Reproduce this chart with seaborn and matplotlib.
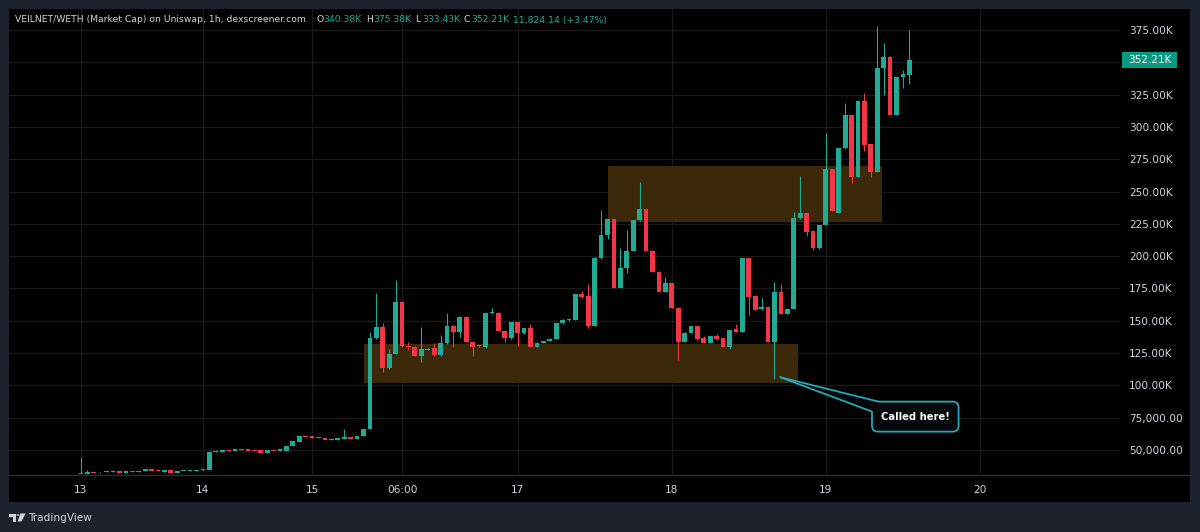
import numpy as np
import pandas as pd
import matplotlib.pyplot as plt
import matplotlib.transforms as mtransforms
from matplotlib.patches import Rectangle, FancyBboxPatch, Polygon, Circle
from matplotlib.lines import Line2D
import seaborn as sns

# ============================================================
# 0. 데이터 (단위: K, 1시간봉)
# ============================================================

opens = [31.6, 31.4, 33.0, 32.6, 32.8, 33.0, 33.5, 32.4, 34.0, 33.2,
         33.5, 35.1, 34.3, 33.0, 34.5, 32.4, 33.5, 33.7, 34.0, 34.3,
         34.5, 48.5, 48.7, 50.0, 49.2, 51.0, 50.5, 50.3, 50.0, 48.0,
         50.0, 49.5, 49.5, 53.1, 56.5, 60.8, 60.8, 59.8, 59.3, 57.7,
         57.7, 58.8, 60.3, 58.5, 60.8, 66.3, 136.5, 145.0, 113.2, 124.3,
         164.8, 130.5, 130.0, 122.8, 127.7, 128.7, 123.5, 132.6, 146.0, 141.6,
         153.2, 133.8, 130.8, 129.5, 155.8, 156.3, 142.4, 136.5, 148.7, 140.3,
         144.2, 130.0, 133.0, 134.4, 136.1, 148.0, 150.6, 150.6, 170.7, 169.2,
         146.2, 198.8, 216.0, 228.8, 175.6, 190.6, 204.3, 228.0, 236.8, 204.3,
         188.0, 172.5, 179.0, 160.1, 133.8, 140.5, 146.0, 136.5, 133.1, 138.2,
         136.5, 130.0, 143.4, 141.6, 198.4, 169.2, 158.9, 160.4, 133.8, 172.5,
         155.3, 159.1, 229.3, 233.2, 219.5, 206.1, 224.1, 267.2, 233.7, 283.5,
         309.3, 261.5, 320.4, 286.8, 265.0, 345.4, 354.4, 309.3, 338.4, 340.38]

highs = [44.8, 34.5, 33.2, 33.0, 33.7, 33.6, 33.6, 34.1, 34.1, 34.1,
         35.2, 35.2, 34.4, 34.6, 34.6, 34.1, 33.9, 34.6, 34.6, 35.4,
         48.6, 49.6, 50.1, 50.1, 51.1, 51.1, 50.6, 50.4, 50.1, 50.1,
         50.1, 50.6, 53.2, 56.8, 60.9, 60.9, 60.9, 59.9, 59.4, 58.9,
         59.4, 66.0, 60.4, 60.9, 66.4, 141.6, 171.8, 148.0, 128.0, 181.6,
         165.0, 133.8, 130.5, 145.0, 128.8, 132.8, 139.0, 156.3, 146.5, 154.0,
         153.5, 134.0, 131.5, 156.0, 159.7, 156.5, 142.5, 149.0, 149.0, 144.5,
         147.5, 133.3, 134.6, 136.3, 148.3, 151.0, 151.3, 171.0, 173.3, 178.5,
         199.0, 235.8, 229.0, 229.0, 206.1, 220.3, 228.3, 257.7, 237.0, 204.5,
         188.2, 184.1, 179.2, 160.3, 141.0, 146.3, 146.2, 138.5, 138.4, 139.5,
         136.7, 143.0, 147.3, 198.6, 198.6, 169.4, 167.4, 160.6, 180.3, 178.5,
         159.3, 234.0, 262.0, 233.4, 219.7, 224.3, 295.0, 267.4, 283.7, 318.8,
         309.5, 320.6, 326.1, 287.0, 378.2, 364.8, 354.6, 338.6, 344.1, 375.38]

lows = [31.4, 31.4, 32.3, 32.4, 32.6, 32.9, 32.3, 32.3, 33.1, 33.1,
        33.4, 33.4, 33.4, 32.9, 32.3, 32.3, 33.4, 33.6, 33.9, 34.2,
        34.4, 48.4, 48.6, 49.4, 49.1, 49.9, 49.4, 49.4, 47.9, 47.9,
        49.1, 49.4, 49.4, 53.0, 56.4, 59.9, 59.2, 58.9, 57.6, 57.6,
        57.6, 58.7, 58.4, 58.4, 60.7, 66.0, 136.0, 110.6, 113.0, 124.0,
        130.0, 127.4, 122.5, 118.3, 127.0, 123.0, 123.0, 132.0, 130.0, 137.7,
        133.5, 122.8, 129.5, 129.0, 155.5, 142.0, 133.8, 136.0, 130.5, 140.0,
        129.8, 129.8, 132.8, 134.2, 136.0, 147.8, 150.0, 150.4, 167.5, 144.7,
        146.0, 198.0, 213.0, 175.0, 175.0, 186.8, 204.0, 227.5, 204.0, 187.8,
        172.0, 172.0, 160.0, 119.7, 133.5, 140.3, 135.5, 133.0, 133.0, 135.0,
        129.8, 128.0, 141.4, 141.4, 154.5, 158.2, 158.7, 133.5, 105.0, 155.0,
        155.0, 159.0, 229.0, 215.6, 204.8, 205.9, 224.0, 234.8, 233.5, 283.3,
        256.4, 261.3, 281.7, 261.1, 264.8, 324.8, 309.0, 309.0, 330.0, 333.43]

closes = [31.9, 33.0, 32.4, 32.8, 33.5, 33.4, 32.4, 34.0, 33.2, 34.0,
          35.1, 33.5, 33.5, 34.5, 32.4, 34.0, 33.8, 34.5, 34.5, 35.3,
          48.5, 49.5, 50.0, 49.5, 51.0, 50.0, 49.5, 49.5, 48.0, 50.0,
          49.2, 50.5, 53.1, 56.7, 60.8, 60.0, 59.3, 59.0, 57.7, 58.8,
          59.3, 60.3, 58.5, 60.8, 66.3, 136.5, 145.0, 113.2, 124.3, 164.8,
          130.5, 130.0, 122.8, 128.0, 128.3, 123.5, 132.6, 146.0, 141.6, 153.2,
          133.8, 129.5, 130.3, 155.8, 156.4, 142.4, 136.5, 148.7, 140.3, 144.2,
          130.0, 133.0, 134.4, 136.1, 148.0, 150.6, 151.0, 170.7, 168.7, 146.0,
          198.8, 216.4, 228.8, 175.6, 191.1, 204.3, 228.0, 236.8, 204.3, 188.0,
          172.5, 179.0, 160.1, 133.8, 140.8, 146.0, 135.7, 133.1, 138.2, 135.7,
          130.0, 142.9, 141.6, 198.4, 168.7, 158.4, 160.4, 133.8, 172.5, 155.3,
          159.1, 229.3, 233.2, 219.0, 206.1, 224.1, 267.2, 235.0, 283.5, 309.3,
          261.5, 320.4, 286.1, 265.0, 345.4, 354.4, 309.3, 338.4, 340.8, 352.21]

# 날짜 눈금 (봉 번호 기준)
date_ticks = [0, 19, 36, 50, 68, 92, 116, 140]
date_labels = ["13", "14", "15", "06:00", "17", "18", "19", "20"]

# 가격 눈금 (K) - 350K 라벨은 현재가 배지에 가려짐
price_ticks = [50, 75, 100, 125, 150, 175, 200, 225, 250, 275, 300, 325, 350, 375]
hidden_ticks = [350]

# 박스 구간 (봉 번호 시작/끝, 가격 하단/상단)
zone_x0 = [44.1, 82.0]
zone_x1 = [111.7, 124.7]
zone_y0 = [101.9, 226.7]
zone_y1 = [132.0, 269.8]

last_price = "352.21K"
callout_text = "Called here!"
callout_bar = 108

# ============================================================
# 1. 기본 설정
# ============================================================

W, H = 1200, 532
BG = "#1e222d"
GREEN = "#22ab94"
RED = "#f23645"
TXT = "#d1d4dc"
GRID = "#1a1a1a"

sns.set_theme(style="dark", rc={"axes.facecolor": "black", "figure.facecolor": BG})
plt.rcParams["font.family"] = ["DejaVu Sans"]

df = pd.DataFrame({"open": opens, "high": highs, "low": lows, "close": closes})
df["idx"] = np.arange(len(df))
df["up"] = df["close"] >= df["open"]
df["color"] = np.where(df["up"], GREEN, RED)
df["bottom"] = df[["open", "close"]].min(axis=1)
df["height"] = (df["close"] - df["open"]).abs().clip(lower=0.7)

fig = plt.figure(figsize=(W / 100, H / 100), dpi=100)
fig.patch.set_facecolor(BG)

# 검은 패널
panel = Rectangle((9 / W, 1 - 502 / H), (1190 - 9) / W, (502 - 9) / H,
                  transform=fig.transFigure, facecolor="black", edgecolor="none", zorder=0)
fig.add_artist(panel)

ax = fig.add_axes([9 / W, 1 - 474 / H, (1120 - 9) / W, (474 - 9) / H])
ax.set_facecolor("black")
for s in ax.spines.values():
    s.set_visible(False)

# 축 범위: 봉 간격 6.42px, 첫 봉 x=81px
ax.set_xlim(-11.2, 161.8)
ax.set_ylim(31.4, 391.3)

# 그리드
for t in price_ticks:
    ax.axhline(t, color=GRID, lw=0.9, zorder=0.5)
for t in date_ticks:
    ax.axvline(t, color=GRID, lw=0.9, zorder=0.5)

# ============================================================
# 2. 박스 구간
# ============================================================

for x0, x1, y0, y1 in zip(zone_x0, zone_x1, zone_y0, zone_y1):
    ax.add_patch(Rectangle((x0, y0), x1 - x0, y1 - y0, facecolor="#3c290a",
                           edgecolor="none", zorder=1))

# ============================================================
# 3. 캔들
# ============================================================

ax.vlines(df["idx"], df["low"], df["high"], colors=df["color"], lw=0.8, zorder=2)
ax.bar(df["idx"], df["height"], bottom=df["bottom"], width=0.74,
       color=df["color"], edgecolor="none", zorder=3)

# ============================================================
# 4. 축 눈금
# ============================================================

def fmt_price(v):
    if v in hidden_ticks:
        return ""
    if v >= 100:
        return f"{v:.2f}K"
    return f"{v * 1000:,.2f}"

ax.yaxis.tick_right()
ax.set_yticks(price_ticks)
ax.set_yticklabels([fmt_price(v) for v in price_ticks])
ax.tick_params(axis="y", length=0, pad=6.5, labelsize=7.6, labelcolor=TXT)

ax.set_xticks(date_ticks)
ax.set_xticklabels(date_labels)
ax.tick_params(axis="x", length=0, pad=8, labelsize=7.6, labelcolor=TXT)
ax.grid(False)

# x축 경계선
fig.add_artist(Line2D([9 / W, 1190 / W], [1 - 474.5 / H, 1 - 474.5 / H],
                      transform=fig.transFigure, color="#2a2e39", lw=1))

# 현재가 배지
fig.add_artist(Rectangle((1121.7 / W, 1 - 68.3 / H), (1177.3 - 1121.7) / W, 16.6 / H,
                         transform=fig.transFigure, facecolor="#089981",
                         edgecolor="none", zorder=5))
fig.text(1149.5 / W, 1 - 60 / H, last_price, color="white", fontsize=7.6,
         ha="center", va="center", zorder=6)

# ============================================================
# 5. 제목
# ============================================================

ty = 1 - 20 / H
fs_title = 6.7
fig.text(15 / W, ty, "VEILNET/WETH (Market Cap) on Uniswap, 1h, dexscreener.com",
         color=TXT, fontsize=fs_title, va="center")
ohlc = [("O", "340.38K", 316.5), ("H", "375.38K", 366.6),
        ("L", "333.43K", 415.0), ("C", "352.21K", 463.8)]
for letter, val, px in ohlc:
    fig.text(px / W, ty, letter, color=TXT, fontsize=fs_title, va="center")
    fig.text((px + 7.0) / W, ty, val, color=GREEN, fontsize=fs_title, va="center")
fig.text(513 / W, ty, "11,824.14 (+3.47%)", color=GREEN, fontsize=fs_title, va="center")

# ============================================================
# 6. 말풍선
# ============================================================

ident = mtransforms.IdentityTransform()
ax_px, ay_px = ax.transData.transform((callout_bar + 0.9, df["low"][callout_bar] + 1.3))
bx0, bx1 = ax_px + 91.7, ax_px + 178.3
by1, by0 = ay_px - 24.4, ay_px - 54.4
teal = "#27a6b5"
box = FancyBboxPatch((bx0, by0), bx1 - bx0, by1 - by0,
                     boxstyle="round,pad=0,rounding_size=6", transform=ident,
                     facecolor="#05080b", edgecolor=teal, lw=1.3, zorder=7)
fig.add_artist(box)
p1 = (ax_px + 98.3, by1)
p2 = (bx0, ay_px - 34.4)
fig.add_artist(Polygon([(ax_px, ay_px), (p1[0] + 0.5, p1[1] + 0.3), (p1[0], p1[1] - 3),
                        (p2[0] + 3, p2[1]), (p2[0] - 0.3, p2[1] - 0.5)],
                       closed=True, transform=ident, facecolor="#05080b",
                       edgecolor="none", zorder=8))
fig.add_artist(Line2D([ax_px, p1[0]], [ay_px, p1[1]], transform=ident, color=teal, lw=1.3, zorder=9))
fig.add_artist(Line2D([ax_px, p2[0]], [ay_px, p2[1]], transform=ident, color=teal, lw=1.3, zorder=9))
fig.text((bx0 + bx1) / 2 / W, (by0 + by1) / 2 / H, callout_text, color="white",
         fontsize=7.2, fontweight="bold", ha="center", va="center", zorder=10)

# ============================================================
# 7. 로고
# ============================================================

def px2fig(px, py):
    return (px / W, 1 - py / H)

logo_c = "#d1d4dc"
fig.add_artist(Polygon([px2fig(8.5, 513.5), px2fig(15.5, 513.5), px2fig(15.5, 521.5),
                        px2fig(12.5, 521.5), px2fig(12.5, 516.5), px2fig(8.5, 516.5)],
                       closed=True, transform=fig.transFigure, facecolor=logo_c, edgecolor="none"))
fig.add_artist(Circle(px2fig(18.0, 515.0), 1.6 / W, transform=fig.transFigure,
                      facecolor=logo_c, edgecolor="none"))
fig.add_artist(Polygon([px2fig(20.5, 513.5), px2fig(25.5, 513.5), px2fig(21.5, 521.5),
                        px2fig(17.5, 521.5)],
                       closed=True, transform=fig.transFigure, facecolor=logo_c, edgecolor="none"))
fig.text(28.3 / W, 1 - 517.7 / H, "TradingView", color=logo_c, fontsize=7.6, va="center")

fig.savefig("out.png", dpi=100, facecolor=BG)
